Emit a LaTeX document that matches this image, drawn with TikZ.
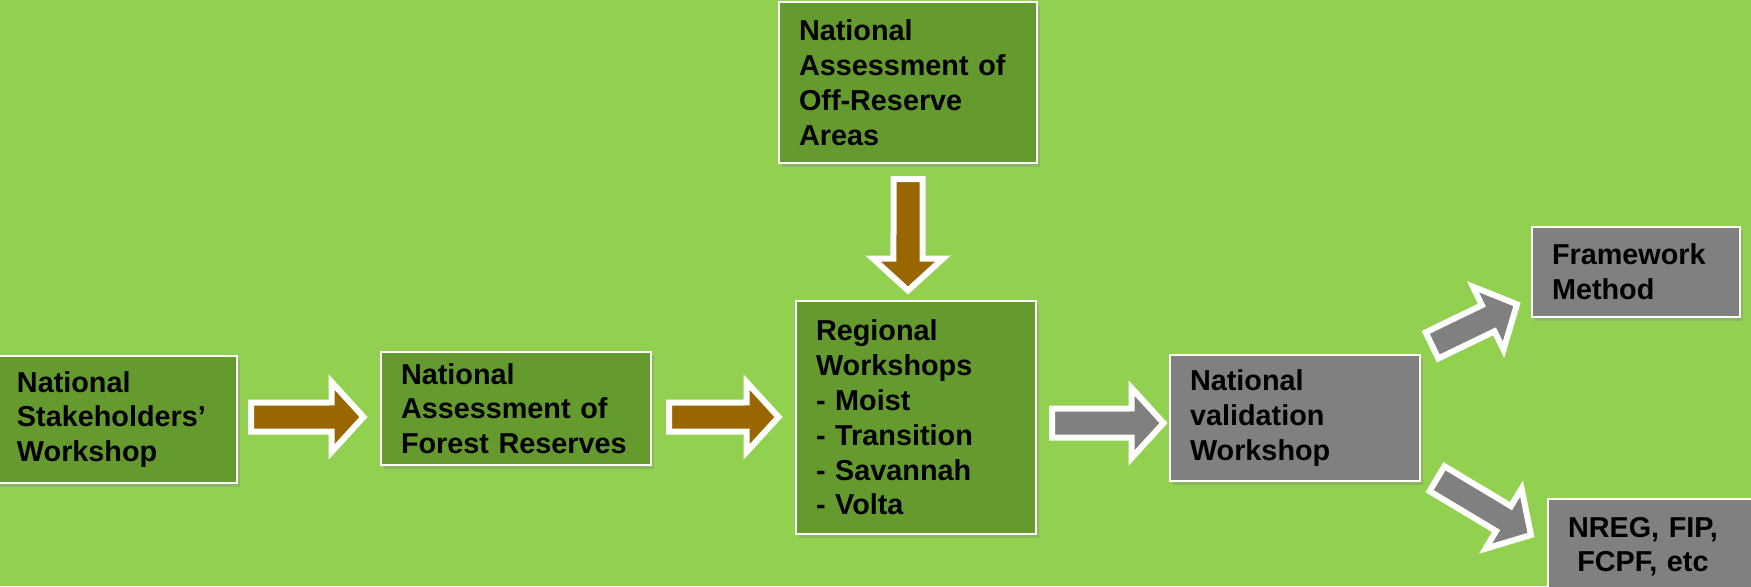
\documentclass[tikz,border=0pt]{standalone}
\usepackage{fontspec}
\setmainfont{Liberation Sans}
\usepackage{tikz}
\usetikzlibrary{calc,positioning,shadows}
\definecolor{bggreen}{RGB}{146,208,80}
\definecolor{boxgreen}{RGB}{100,154,46}
\definecolor{arrowbrown}{RGB}{153,102,0}
\definecolor{boxgrey}{RGB}{128,128,128}

\begin{document}
\begin{tikzpicture}[x=0.5pt,y=-0.5pt]
\tikzstyle{box}=[rectangle, draw=white, line width=1pt, inner xsep=10pt, inner ysep=0pt, align=left, text=black,
  font=\fontsize{14.4}{17.4}\selectfont\bfseries, drop shadow={opacity=0.3, shadow xshift=1.5pt, shadow yshift=-2pt}]
\tikzstyle{greenbox}=[box, fill=boxgreen]
\tikzstyle{greybox}=[box, fill=boxgrey]
% block arrow from tail centre to tip: shaft 7.25pt, head 17.5pt wide, 16pt long
\tikzstyle{fatarrow}=[draw=white, line width=3pt, line join=miter, to path={
  -- ($(\tikztostart)!7.25pt!90:(\tikztotarget)$)
  -- ($(\tikztotarget)!17.57pt!-24.4:(\tikztostart)$)
  -- ($(\tikztotarget)!23.71pt!-47.6:(\tikztostart)$)
  -- (\tikztotarget)
  -- ($(\tikztotarget)!23.71pt!47.6:(\tikztostart)$)
  -- ($(\tikztotarget)!17.57pt!24.4:(\tikztostart)$)
  -- ($(\tikztostart)!7.25pt!-90:(\tikztotarget)$)
  -- cycle}]
\tikzstyle{brownarrow}=[fatarrow, fill=arrowbrown]
\tikzstyle{greyarrow}=[fatarrow, fill=boxgrey]

\useasboundingbox (0,0) rectangle (1751,586);
\clip (0,0) rectangle (1751,586);
\fill[bggreen] (0,0) rectangle (1751,586);

\node[greenbox, text width=100pt, minimum height=63.5pt] (ws) at (117,419.5) {National\\Stakeholders’\\Workshop};
\node[greenbox, text width=115pt, minimum height=56.5pt] (afr) at (516,408.5) {National\\Assessment of\\Forest Reserves};
\node[greenbox, text width=109pt, minimum height=80.5pt] (ora) at (908,82.5) {National\\Assessment of\\Off-Reserve\\Areas};
\node[greenbox, text width=100pt, minimum height=116.5pt] (rw) at (916,417.5) {Regional\\Workshops\\- Moist\\- Transition\\- Savannah\\- Volta};
\node[greybox, text width=105pt, minimum height=63pt] (val) at (1295,418) {National\\validation\\Workshop};
\node[greybox, text width=84pt, minimum height=45pt] (fw) at (1636,272) {Framework\\Method};
\node[greybox, text width=95pt, minimum height=48.5pt] (nreg) at (1663,547.5) {\begin{tabular}{@{}c@{}}NREG, FIP,\\FCPF, etc\end{tabular}};

\coordinate (a1s) at ($(ws.east)+(13,-2.5)$);
\coordinate (a1t) at ($(ws.east -| afr.west)+(-16.5,-2.5)$);
\coordinate (a2s) at ($(afr.east)+(17,8.5)$);
\coordinate (a2t) at ($(afr.east -| rw.west)+(-16.5,8.5)$);
\coordinate (a3s) at ($(ora.south)+(0,15)$);
\coordinate (a3t) at ($(ora.south |- rw.north)+(0,-9.5)$);
\coordinate (a4s) at ($(rw.east)+(15,5.5)$);
\coordinate (a4t) at ($(rw.east -| val.west)+(-5.5,5.5)$);
\coordinate (a5s) at ($(val.north east)+(11,-8.6)$);
\coordinate (a5t) at ($(fw.south west)+(-14,-13.7)$);
\coordinate (a6s) at ($(val.south east)+(16,-3.3)$);
\coordinate (a6t) at ($(nreg.north west)+(-16,37)$);

\draw[brownarrow] (a1s) to (a1t);
\draw[brownarrow] (a2s) to (a2t);
\draw[brownarrow] (a3s) to (a3t);
\draw[greyarrow] (a4s) to (a4t);
\draw[greyarrow] (a5s) to (a5t);
\draw[greyarrow] (a6s) to (a6t);
\end{tikzpicture}
\end{document}
